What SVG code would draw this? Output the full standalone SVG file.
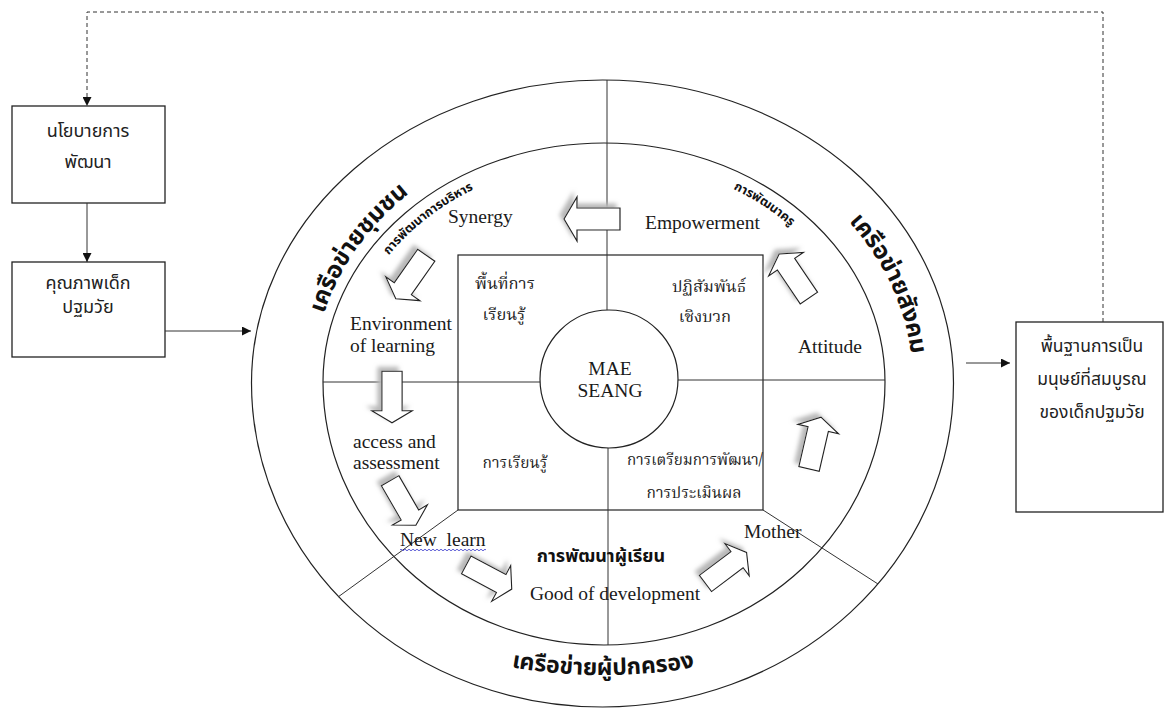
<svg xmlns="http://www.w3.org/2000/svg" width="1169" height="709" viewBox="0 0 1169 709">
<style>
.ln{fill:none;stroke:#222;stroke-width:1.2}
.thin{fill:none;stroke:#333;stroke-width:1}
.box{fill:#fff;stroke:#222;stroke-width:1.3}
.en{font-family:"Liberation Serif","Times New Roman",serif;font-size:19.5px;fill:#1a1a1a}
.th{font-family:"Noto Sans Thai","Noto Sans","DejaVu Sans",sans-serif;font-size:18px;fill:#222;text-anchor:middle}
.ths{font-family:"Noto Serif Thai","Noto Sans Thai","Liberation Serif",serif;font-size:16.5px;fill:#222;text-anchor:middle}
.ths2{font-family:"Noto Serif Thai","Noto Sans Thai","Liberation Serif",serif;font-size:15.5px;fill:#222;text-anchor:middle}
.big{font-family:"Noto Sans Thai","Noto Sans","DejaVu Sans",sans-serif;font-size:24px;font-weight:bold;fill:#111}
.sm{font-family:"Noto Sans Thai","Noto Sans","DejaVu Sans",sans-serif;font-size:12.5px;font-weight:bold;fill:#111}
.mid{font-family:"Noto Sans Thai","Noto Sans","DejaVu Sans",sans-serif;font-size:18px;font-weight:bold;fill:#111}
.arr{fill:#fff;stroke:#222;stroke-width:1.2;stroke-linejoin:miter}
</style>
<defs>
<marker id="ah" viewBox="0 0 10 10" refX="10" refY="5" markerWidth="9" markerHeight="9" markerUnits="userSpaceOnUse" orient="auto">
<path d="M0,0 L10,5 L0,10 z" fill="#111"/>
</marker>
<filter id="sh" x="-40%" y="-40%" width="180%" height="180%">
<feGaussianBlur in="SourceAlpha" stdDeviation="2"/>
<feOffset dx="-4" dy="-4" result="b"/>
<feFlood flood-color="#b8b8b8"/>
<feComposite in2="b" operator="in"/>
<feMerge><feMergeNode/><feMergeNode in="SourceGraphic"/></feMerge>
</filter>
<polygon id="blk" points="-28,-11 15,-11 15,-22 28,0 15,22 15,11 -28,11"/>
<path id="pL" d="M314.1,405.2 A290,255 0 0,1 489.7,148.3"/>
<path id="pR" d="M771.8,160.7 A310,265 0 0,1 902.4,451.6"/>
<path id="pB" d="M203,383 A400,292 0 0,0 1003,383"/>
<path id="pS1" d="M346,342.7 A262,222 0 0,1 567.5,162.2"/>
<path id="pS2" d="M617.7,160.3 A262,222 0 0,1 857,324.5"/>
</defs>
<rect width="1169" height="709" fill="#fff"/>

<g id="network">
<path class="ln" d="M251.5,383 A351,303 0 0,1 953.5,383 A351,324 0 0,1 251.5,383 Z"/>
<path class="ln" d="M323,382 A281,239 0 0,1 885,382 A281,263 0 0,1 323,382 Z"/>
<rect class="ln" x="458" y="255" width="305" height="255"/>
<line class="thin" x1="607" y1="80" x2="607" y2="310"/>
<line class="thin" x1="608" y1="448" x2="608" y2="645"/>
<line class="thin" x1="323" y1="382" x2="540" y2="382"/>
<line class="thin" x1="678" y1="380" x2="885" y2="380"/>
<line class="thin" x1="458" y1="510" x2="338" y2="597"/>
<line class="thin" x1="763" y1="510" x2="878" y2="584"/>
<circle class="ln" cx="609" cy="379" r="69" fill="#fff"/>
</g>

<g id="center">
<text class="en" x="610" y="375" text-anchor="middle">MAE</text>
<text class="en" x="610" y="397" text-anchor="middle">SEANG</text>
</g>

<g id="quadrants">
<text class="ths" x="505" y="289">พื้นที่การ</text>
<text class="ths" x="504" y="320">เรียนรู้</text>
<text class="ths" x="709" y="292">ปฏิสัมพันธ์</text>
<text class="ths" x="705" y="322">เชิงบวก</text>
<text class="ths2" x="515" y="468">การเรียนรู้</text>
<text class="ths2" x="695" y="465" textLength="136" lengthAdjust="spacingAndGlyphs">การเตรียมการพัฒนา/</text>
<text class="ths2" x="694" y="498">การประเมินผล</text>
</g>

<g id="ring-labels">
<text class="en" x="448" y="223">Synergy</text>
<text class="en" x="645" y="229">Empowerment</text>
<text class="en" x="350" y="330">Environment</text>
<text class="en" x="350" y="352">of learning</text>
<text class="en" x="353" y="448">access and</text>
<text class="en" x="353" y="469">assessment</text>
<text class="en" x="400" y="546" xml:space="preserve">New  learn</text>
<path d="M400,550 q1,-1.6 2,0 t2,0 t2,0 t2,0 t2,0 t2,0 t2,0 t2,0 t2,0 t2,0 t2,0 t2,0 t2,0 t2,0 t2,0 t2,0 t2,0 t2,0 t2,0 t2,0 t2,0 t2,0 t2,0 t2,0 t2,0 t2,0 t2,0 t2,0 t2,0 t2,0 t2,0 t2,0 t2,0 t2,0 t2,0 t2,0 t2,0 t2,0 t2,0 t2,0 t2,0 t2,0 t2,0" fill="none" stroke="#4a4ad0" stroke-width="0.9"/>
<text class="en" x="530" y="600">Good of development</text>
<text class="en" x="744" y="538">Mother</text>
<text class="en" x="798" y="353">Attitude</text>
<text class="mid" x="601" y="562" text-anchor="middle">การพัฒนาผู้เรียน</text>
<text class="sm"><textPath href="#pS1" startOffset="50%" text-anchor="middle">การพัฒนาการบริหาร</textPath></text>
<text class="sm"><textPath href="#pS2" startOffset="50%" text-anchor="middle">การพัฒนาครู</textPath></text>
</g>

<g id="network-labels">
<text class="big"><textPath href="#pL" startOffset="50%" text-anchor="middle">เครือข่ายชุมชน</textPath></text>
<text class="big"><textPath href="#pR" startOffset="50%" text-anchor="middle">เครือข่ายสังคม</textPath></text>
<text class="big" style="font-size:23px"><textPath href="#pB" startOffset="50%" text-anchor="middle">เครือข่ายผู้ปกครอง</textPath></text>
</g>

<g id="block-arrows">
<g filter="url(#sh)"><use href="#blk" class="arr" transform="translate(592,219) rotate(180)"/></g>
<g filter="url(#sh)"><use href="#blk" class="arr" transform="translate(411,277) rotate(125) scale(0.95)"/></g>
<g filter="url(#sh)"><use href="#blk" class="arr" transform="translate(392,397) rotate(90) scale(0.92)"/></g>
<g filter="url(#sh)"><use href="#blk" class="arr" transform="translate(403,503) rotate(60) scale(0.92)"/></g>
<g filter="url(#sh)"><use href="#blk" class="arr" transform="translate(489,577) rotate(28) scale(0.92)"/></g>
<g filter="url(#sh)"><use href="#blk" class="arr" transform="translate(726,568) rotate(-37) scale(0.92)"/></g>
<g filter="url(#sh)"><use href="#blk" class="arr" transform="translate(815,443) rotate(-77) scale(0.95)"/></g>
<g filter="url(#sh)"><use href="#blk" class="arr" transform="translate(794,276) rotate(-124) scale(0.95)"/></g>
</g>

<g id="policy">
<rect class="box" x="12" y="106" width="153" height="97"/>
<text class="th" x="88" y="137">นโยบายการ</text>
<text class="th" x="88" y="168">พัฒนา</text>
</g>
<g id="quality">
<rect class="box" x="12" y="262" width="153" height="95"/>
<text class="th" x="88" y="289">คุณภาพเด็ก</text>
<text class="th" x="88" y="313">ปฐมวัย</text>
</g>
<g id="foundation">
<rect class="box" x="1016" y="322" width="147" height="190"/>
<text class="th" style="font-size:17.5px" x="1092" y="352">พื้นฐานการเป็น</text>
<text class="th" style="font-size:17.5px" x="1092" y="385">มนุษย์ที่สมบูรณ</text>
<text class="th" style="font-size:17.5px" x="1092" y="418">ของเด็กปฐมวัย</text>
</g>

<g id="connectors">
<path class="thin" d="M87,203 V262" marker-end="url(#ah)"/>
<path class="thin" d="M165,331 H251" marker-end="url(#ah)"/>
<path class="thin" d="M966,363 H1010" marker-end="url(#ah)"/>
<path class="thin" d="M1103,322 V12 H87 V106" stroke-dasharray="4,3" marker-end="url(#ah)"/>
</g>
</svg>
